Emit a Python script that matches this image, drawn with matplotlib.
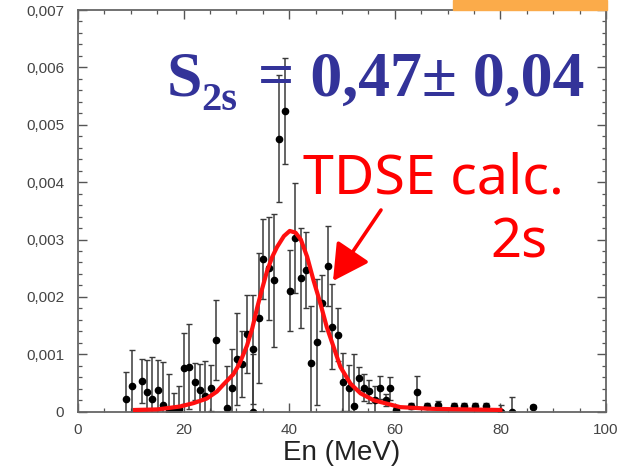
import matplotlib
matplotlib.use('Agg')
import matplotlib.pyplot as plt
from matplotlib.ticker import MultipleLocator, FuncFormatter
from matplotlib.patches import Rectangle, FancyArrowPatch

# measured spectrum (En in MeV)
en = [9.1, 10.2, 12.1, 13.1, 14.1, 15.1, 16.1, 17.3, 18.2, 19.1,
      20.1, 21.1, 22.2, 23.1, 24.1, 25.2, 26.2, 28.2, 29.2, 30.2,
      31.1, 32.1, 33.1, 33.2, 34.3, 35.1, 36.2, 37.2, 38.1, 39.2,
      40.2, 41.1, 42.2, 43.2, 44.2, 45.2, 46.2, 47.3, 48.2, 49.2,
      50.2, 51.3, 52.2, 53.3, 54.2, 55.2, 56.3, 57.2, 58.3, 59.1,
      60.2, 63.1, 64.2, 66.1, 68.2, 71.2, 73.2, 75.1, 77.2, 80.1,
      82.2, 86.2]
counts = [0.00022, 0.00044, 0.00054, 0.00035, 0.00023, 0.00038, 0.00012, 0.00002, 0.00002, 0.00005,
          0.00076, 0.00078, 0.00052, 0.00038, 0.00028, 0.00041, 0.00125, 0.00006, 0.00042, 0.00092,
          0.00083, 0.00135, 0.00109, 0.0, 0.00163, 0.00266, 0.0025, 0.00229, 0.00476, 0.00524,
          0.00211, 0.00302, 0.00233, 0.00247, 0.00085, 0.00121, 0.0019, 0.00254, 0.00148, 0.00134,
          0.00052, 0.00042, 0.0001, 0.00058, 0.00042, 0.00036, 0.0002, 0.00042, 0.0002, 0.00041,
          0.00003, 0.0001, 0.00034, 0.0001, 0.00012, 0.0001, 0.0001, 0.0001, 0.0001, 0.0,
          0.0, 0.00008]
errors = [0.00047, 0.00063, 0.00038, 0.00055, 0.00072, 0.00052, 0.00074, 0.00064, 0.0003, 0.0004,
          0.00062, 0.00074, 0.00032, 0.00045, 0.0006, 0.0004, 0.0007, 0.00074, 0.00068, 0.0008,
          0.00057, 0.00068, 0.00095, 0.001, 0.00113, 0.0007, 0.0009, 0.00116, 0.0011, 0.00092,
          0.0007, 0.00096, 0.00087, 0.00066, 0.00099, 0.0011, 0.00049, 0.0007, 0.00074, 0.00046,
          0.0005, 0.0004, 0.0009, 0.0002, 0.00023, 0.0002, 0.00024, 0.0002, 0.0001, 0.0002,
          0.00005, 0.00005, 0.00028, 0.00006, 0.00007, 0.00006, 0.00006, 0.00006, 0.00006, 0.00012,
          0.00026, 0.00004]

# TDSE calculation 2s
calc_en = [10.8, 15, 19.3, 21.9, 24.4, 26.3, 27.5, 29.4, 30.5, 32, 33, 33.9, 34.9, 35.8, 36.8,
           37.7, 39, 40.1, 41.2, 42.2, 43.4, 44.6, 45.9, 47.1, 48.4, 49.7, 51.6, 53.5, 56,
           58.5, 61, 67, 80]
calc_val = [0.00003, 0.00004, 0.00009, 0.00015, 0.00023, 0.00035, 0.00047, 0.00065, 0.00082,
            0.00115, 0.00145, 0.0018, 0.00215, 0.00245, 0.0027, 0.00287, 0.00306, 0.00315,
            0.00312, 0.003, 0.0027, 0.00229, 0.00189, 0.00148, 0.00113, 0.00078, 0.00049,
            0.00032, 0.0002, 0.00014, 0.00008, 0.00005, 0.00003]

W, H = 628, 467
fig = plt.figure(figsize=(6.28, 4.67), dpi=100)
ax = fig.add_axes([78 / W, 1 - 411.7 / H, (606 - 78) / W, (411.7 - 10) / H])

ax.errorbar(en, counts, yerr=errors, fmt='o', color='black', ms=4.5,
            ecolor='#3a3a3a', elinewidth=1.1, capsize=2.2, capthick=1.0, zorder=2)
ax.plot(calc_en, calc_val, color='#ff1010', lw=3.0, zorder=3)

ax.set_xlim(0, 100)
ax.set_ylim(0, 0.007)
ax.xaxis.set_major_locator(MultipleLocator(20))
ax.xaxis.set_minor_locator(MultipleLocator(5))
ax.yaxis.set_major_locator(MultipleLocator(0.001))
ax.yaxis.set_minor_locator(MultipleLocator(0.0002))


def yfmt(v, pos):
    if abs(v) < 1e-9:
        return '0'
    return ('%.3f' % v).replace('.', ',')


ax.yaxis.set_major_formatter(FuncFormatter(yfmt))
ax.tick_params(which='both', direction='in', top=True, right=True, color='#555555',
               labelcolor='#444444', labelsize=11)
ax.tick_params(which='major', length=6.5, width=1.0)
ax.tick_params(which='minor', length=3.2, width=0.9)
ax.tick_params(axis='y', pad=10)
ax.tick_params(axis='x', pad=8)
for lab in ax.get_xticklabels() + ax.get_yticklabels():
    lab.set_family('Liberation Sans')
for sp in ax.spines.values():
    sp.set_color('#666666')
    sp.set_linewidth(1.3)

ax.set_xlabel('En (MeV)', fontsize=20, family='Liberation Sans', color='#222222', labelpad=2)

# annotations
blue = '#333399'
fig.text(167 / W, 1 - 96 / H, 'S', fontsize=46, fontweight='bold', family='Liberation Serif',
         color=blue, va='baseline')
fig.text(201 / W, 1 - 110 / H, '2s', fontsize=29, fontweight='bold', family='Liberation Serif',
         color=blue, va='baseline')
fig.text(258 / W, 1 - 96 / H, '= 0,47\u00b1 0,04', fontsize=46, fontweight='bold',
         family='Liberation Serif', color=blue, va='baseline')

fig.text(303 / W, 1 - 193 / H, 'TDSE calc.', fontsize=40, family='Noto Sans', color='red',
         va='baseline')
fig.text(490 / W, 1 - 257 / H, '2s', fontsize=39, family='Noto Sans', color='red',
         va='baseline')

fig.add_artist(FancyArrowPatch((381 / W, 1 - 210 / H), (333 / W, 1 - 281 / H),
                               transform=fig.transFigure, color='red', lw=2.6,
                               arrowstyle='-|>,head_length=1.1,head_width=0.6',
                               mutation_scale=20, shrinkA=0, shrinkB=0))

fig.add_artist(Rectangle((453 / W, 1 - 10 / H), (607 - 453) / W, 10 / H,
                         transform=fig.transFigure, color='#fbab4a', zorder=5))

fig.savefig('out.png', dpi=100)
